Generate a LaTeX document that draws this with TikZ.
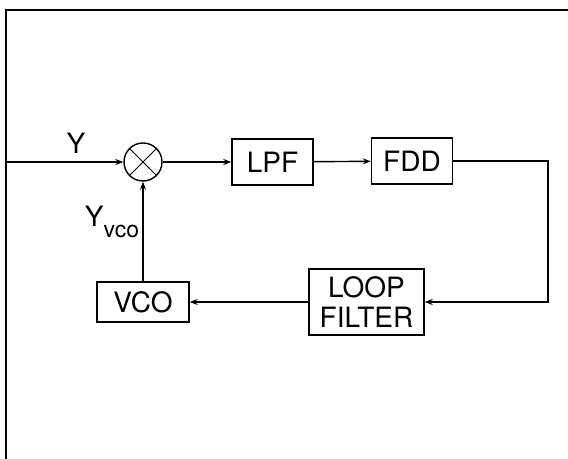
\documentclass[tikz,border=0pt]{standalone}
\usepackage{fontspec}
\setmainfont{TeX Gyre Heros}
\usetikzlibrary{arrows.meta, positioning}

\begin{document}
\begin{tikzpicture}[
    x=0.5pt, y=-0.5pt,
    box/.style={draw, line width=0.7pt, minimum width=40.5pt, minimum height=23pt, align=center, inner sep=0pt, font=\fontsize{14}{14}\selectfont},
    arrow/.style={-{Stealth[length=4pt, width=3pt]}, line width=0.7pt},
    lbl/.style={font=\fontsize{14}{14}\selectfont}
]
\useasboundingbox (0,0) rectangle (568,459);
% --- frame ---
\draw[line width=0.9pt] (6,459) -- (6,10) -- (568,10);

% --- forward path ---
\coordinate (in) at (6,162);
\node[draw, circle, line width=0.7pt, minimum size=19pt, inner sep=0pt] (mix) at (143,162) {};
\draw[line width=0.5pt] (mix.north west) -- (mix.south east);
\draw[line width=0.5pt] (mix.north east) -- (mix.south west);
\node[box] (lpf) at (272.5,162) {LPF};
\node[box] (fdd) at (412,161) {FDD};
\node[lbl] (y) at (76,143) {Y};
\draw[arrow] (in) -- (mix);
\draw[arrow] (mix) -- (lpf);
\draw[arrow] (lpf) -- (fdd);

% --- feedback path ---
\node[box, minimum width=57.5pt, minimum height=33pt] (lf) at (366.5,302) {LOOP\\[1pt]FILTER};
\node[box, minimum width=46pt, minimum height=20pt] (vco) at (143,302) {VCO};
\node[lbl] (yvco) at (112,222) {Y\raisebox{-0.7ex}{\fontsize{11.5}{12}\selectfont vco}};
\coordinate (c1) at (548,161);
\coordinate (c2) at (548,302);
\draw[arrow] (fdd) -- (c1) -- (c2) -- (lf);
\draw[arrow] (lf) -- (vco);
\draw[arrow] (vco) -- (mix);
\end{tikzpicture}
\end{document}
